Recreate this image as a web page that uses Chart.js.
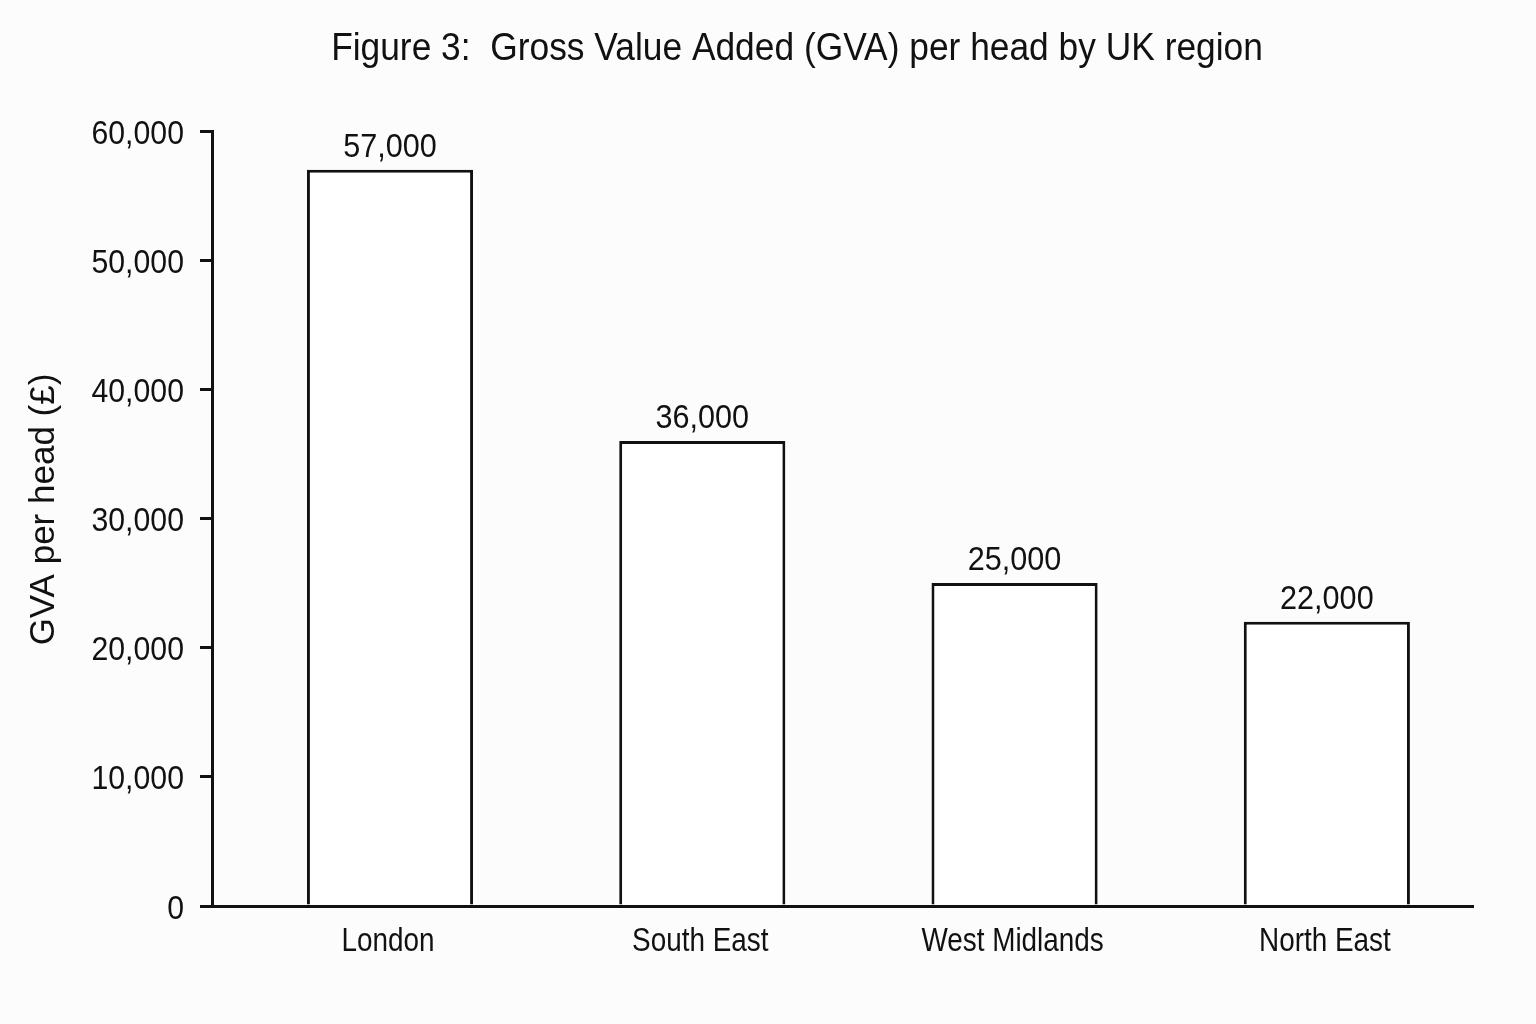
<!DOCTYPE html>
<html>
<head>
<meta charset="utf-8">
<title>GVA per head by UK region</title>
<script src="https://cdn.jsdelivr.net/npm/chart.js@4.4.1/dist/chart.umd.min.js"></script>
<style>
  html, body { margin: 0; padding: 0; background: #fcfcfc; }
  #wrap { width: 1536px; height: 1024px; position: relative; }
</style>
</head>
<body>
<div id="wrap"><canvas id="chart"></canvas></div>
<script>
// Chart data
const regions = ['London', 'South East', 'West Midlands', 'North East'];
const gvaPerHead = [57000, 36000, 25000, 22000];
const yTicks = [0, 10000, 20000, 30000, 40000, 50000, 60000];
const chartTitle = 'Figure 3:  Gross Value Added (GVA) per head by UK region';
const yTitle = 'GVA per head (£)';

const FONT = "'Liberation Sans', Arial, sans-serif";
const INK = '#111111';

const fmt = (v) => Number(v).toLocaleString('en-GB');

// The original uses a condensed face; none is installed, so squeeze the text horizontally
const drawNarrow = (ctx, text, x, y, { size, squeeze = 1, align = 'center', angle = 0 }) => {
    ctx.save();
    ctx.translate(x, y);
    if (angle) ctx.rotate(angle);
    ctx.scale(squeeze, 1);
    ctx.font = `${size}px ${FONT}`;
    ctx.fillStyle = INK;
    ctx.textAlign = align;
    ctx.textBaseline = 'alphabetic';
    ctx.fillText(text, 0, 0);
    ctx.restore();
};

const textLayer = {
    id: 'textLayer',
    afterDraw(chart) {
        const { ctx, chartArea, scales } = chart;
        const { x, y } = scales;

        // title
        drawNarrow(ctx, chartTitle, 797, 60, { size: 38, squeeze: 0.93 });

        // y tick labels, vertically centred on their tick marks
        y.ticks.forEach(t => {
            drawNarrow(ctx, fmt(t.value), chartArea.left - 28, y.getPixelForValue(t.value) + 12.5,
                { size: 34, squeeze: 0.89, align: 'right' });
        });

        // y axis title
        drawNarrow(ctx, yTitle, 54, (chartArea.top + chartArea.bottom) / 2 - 9,
            { size: 35, squeeze: 1, angle: -Math.PI / 2 });

        // category labels under the axis
        x.ticks.forEach(t => {
            drawNarrow(ctx, regions[t.value], x.getPixelForValue(t.value) - 2, chartArea.bottom + 45,
                { size: 34, squeeze: 0.82 });
        });

        // value labels above the bars
        chart.getDatasetMeta(0).data.forEach((bar, i) => {
            drawNarrow(ctx, fmt(gvaPerHead[i]), bar.x, bar.y - 13, { size: 34, squeeze: 0.9 });
        });
    }
};

new Chart(document.getElementById('chart'), {
    type: 'bar',
    data: {
        datasets: [{
            data: gvaPerHead.map((v, i) => ({ x: i, y: v })),
            backgroundColor: '#ffffff',
            borderColor: INK,
            borderWidth: 3,
            borderSkipped: 'bottom',
            barPercentage: 0.532,
            categoryPercentage: 1
        }]
    },
    options: {
        responsive: true,
        maintainAspectRatio: false,
        animation: false,
        layout: { padding: { left: 0, right: 63, top: 131, bottom: 0 } },
        plugins: {
            legend: { display: false },
            tooltip: { enabled: false },
            title: { display: false }
        },
        scales: {
            x: {
                type: 'linear',
                offset: false,
                min: -0.57,
                max: 3.468,
                afterBuildTicks: (scale) => {
                    scale.ticks = regions.map((_, i) => ({ value: i }));
                },
                afterFit: (scale) => { scale.height = 118; },
                grid: { display: false },
                border: { display: true, color: INK, width: 3 },
                ticks: { display: false }
            },
            y: {
                min: 0,
                max: 60000,
                afterBuildTicks: (scale) => {
                    scale.ticks = yTicks.map(v => ({ value: v }));
                },
                afterFit: (scale) => { scale.width = 212; },
                grid: {
                    drawOnChartArea: false,
                    drawTicks: true,
                    tickLength: 12,
                    color: INK,
                    lineWidth: 3
                },
                border: { display: true, color: INK, width: 3 },
                ticks: { display: false }
            }
        }
    },
    plugins: [textLayer]
});
</script>
</body>
</html>
